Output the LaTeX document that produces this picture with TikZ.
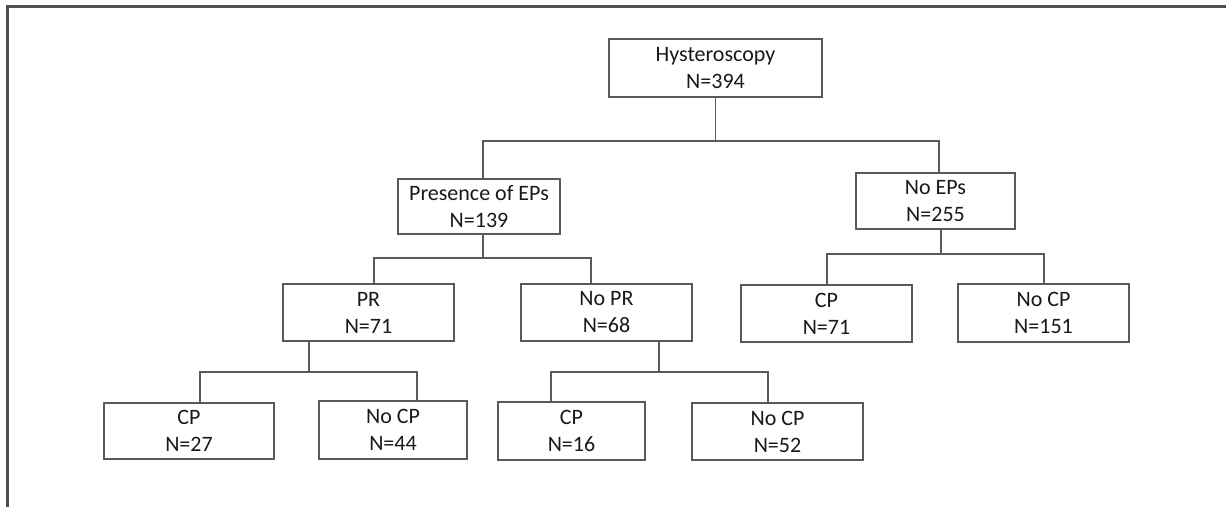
\documentclass[tikz,border=0pt]{standalone}
\usepackage{fontspec}
\setmainfont{Carlito}
\begin{document}
\begin{tikzpicture}[x=1pt,y=-1pt,
  box/.style={draw=linegray,line width=1.4pt,fill=white,inner sep=0pt,align=center,
    font=\fontsize{22}{27}\selectfont,text=black!90},
  conn/.style={draw=linegray,line width=1.4pt}]
\definecolor{linegray}{HTML}{5A5A5A}
\definecolor{framegray}{HTML}{505050}
\useasboundingbox (0,0) rectangle (1226,507);
% frame
\draw[framegray,line width=3pt] (7,507) -- (7,6) -- (1226,6);
% nodes
\node[box,minimum width=213pt,minimum height=58pt] (hyst) at (715.5,68) {Hysteroscopy\\N=394};
\node[box,minimum width=162pt,minimum height=55pt] (pres) at (479,206.5) {Presence of EPs\\N=139};
\node[box,minimum width=159pt,minimum height=56pt] (noep) at (935.5,201) {No EPs\\N=255};
\node[box,minimum width=171pt,minimum height=57pt] (pr) at (368.5,312.5) {PR\\N=71};
\node[box,minimum width=171pt,minimum height=57pt] (nopr) at (606.5,312.5) {No PR\\N=68};
\node[box,minimum width=171pt,minimum height=57pt] (cpr) at (826.5,313.5) {CP\\N=71};
\node[box,minimum width=171pt,minimum height=58pt] (nocpr) at (1043.5,313) {No CP\\N=151};
\node[box,minimum width=170pt,minimum height=56pt] (cpa) at (189,431) {CP\\N=27};
\node[box,minimum width=148pt,minimum height=58pt] (nocpa) at (393,430) {No CP\\N=44};
\node[box,minimum width=147pt,minimum height=58pt] (cpb) at (571.5,431) {CP\\N=16};
\node[box,minimum width=171pt,minimum height=57pt] (nocpb) at (777.5,431.5) {No CP\\N=52};
% junction coordinates
\coordinate (j1) at (715.5,141);
\coordinate (j2) at (483,258);
\coordinate (j3) at (941,254);
\coordinate (j4) at (309,372);
\coordinate (j5) at (659,372);
% connectors
\draw[conn] (hyst.south) -- (j1);
\draw[conn] ([xshift=4pt]pres.north) |- (j1) -| ([xshift=3.5pt]noep.north);
\draw[conn] ([xshift=4pt]pres.south) -- (j2);
\draw[conn] ([xshift=5.5pt]pr.north) |- (j2) -| ([xshift=-15.5pt]nopr.north);
\draw[conn] ([xshift=5.5pt]noep.south) -- (j3);
\draw[conn] ([xshift=0.5pt]cpr.north) |- (j3) -| ([xshift=0.5pt]nocpr.north);
\draw[conn] ([xshift=-59.5pt]pr.south) -- (j4);
\draw[conn] ([xshift=11pt]cpa.north) |- (j4) -| ([xshift=24pt]nocpa.north);
\draw[conn] ([xshift=52.5pt]nopr.south) -- (j5);
\draw[conn] ([xshift=-20.5pt]cpb.north) |- (j5) -| ([xshift=-9.5pt]nocpb.north);
\end{tikzpicture}
\end{document}
